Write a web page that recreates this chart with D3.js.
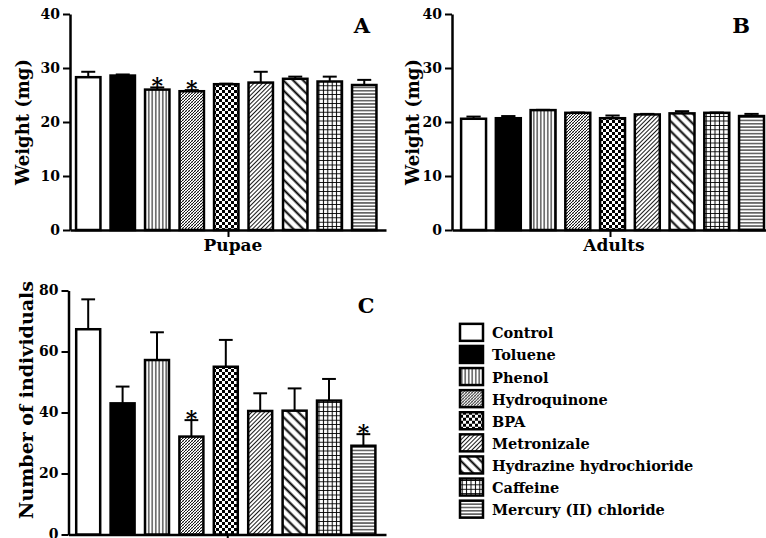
<!DOCTYPE html>
<html>
<head>
<meta charset="utf-8">
<script src="https://cdn.jsdelivr.net/npm/d3@7"></script>
<style>
  body { margin: 0; background: #fff; }
  svg { display: block; }
  text { font-family: "DejaVu Serif", serif; font-weight: bold; fill: #000; }
</style>
</head>
<body>
<div id="chart"></div>
<script>
// values
const categories = ["Control", "Toluene", "Phenol", "Hydroquinone", "BPA", "Metronizale",
  "Hydrazine hydrochioride", "Caffeine", "Mercury (II) chloride"];
const pupaeMean = [28.3, 28.6, 26.0, 25.7, 27.0, 27.3, 28.0, 27.5, 26.85];
const pupaeErr = [1.0, 0.2, 0.4, 0.2, 0.1, 2.0, 0.4, 0.9, 0.95];
const adultsMean = [20.6, 20.7, 22.2, 21.7, 20.7, 21.4, 21.6, 21.7, 21.1];
const adultsErr = [0.4, 0.4, 0.05, 0.05, 0.5, 0.1, 0.4, 0.05, 0.4];
const countMean = [67.3, 43.0, 57.2, 32.1, 55.0, 40.5, 40.6, 43.9, 29.1];
const countErr = [9.8, 5.5, 9.1, 5.4, 8.8, 5.8, 7.3, 7.1, 3.8];
const pupaeStars = ["Phenol", "Hydroquinone"];
const adultsStars = [];
const countStars = ["Hydroquinone", "Mercury (II) chloride"];
const weightTicks = [0, 10, 20, 30, 40];
const countTicks = [0, 20, 40, 60, 80];

const W = 766, H = 538;
const svg = d3.select('#chart').append('svg')
  .attr('width', W)
  .attr('height', H);

// fill patterns, one per treatment
const defs = svg.append('defs');
const pat = (id, w, h, attrs) => {
  const p = defs.append('pattern')
    .attr('id', id)
    .attr('patternUnits', 'userSpaceOnUse')
    .attr('width', w)
    .attr('height', h);
  if (attrs) p.attr('patternTransform', attrs);
  p.append('rect').attr('width', w).attr('height', h).attr('fill', '#fff');
  return p;
};
pat('p2', 3.5, 10).append('line')
  .attr('x1', 1.75).attr('x2', 1.75).attr('y1', 0).attr('y2', 10)
  .attr('stroke', '#000').attr('stroke-width', 1);
const hq = pat('p3', 3, 3);
hq.append('path').attr('d', 'M-1,1 L1,-1 M0,3 L3,0 M2,4 L4,2')
  .attr('stroke', '#000').attr('stroke-width', 0.9);
hq.append('path').attr('d', 'M0,0 L3,3')
  .attr('stroke', '#000').attr('stroke-width', 0.3);
const bpa = pat('p4', 6, 6);
bpa.append('rect').attr('x', 0).attr('y', 0).attr('width', 3).attr('height', 3).attr('fill', '#000');
bpa.append('rect').attr('x', 3).attr('y', 3).attr('width', 3).attr('height', 3).attr('fill', '#000');
pat('p5', 3, 10, 'rotate(45)').append('line')
  .attr('x1', 1.5).attr('x2', 1.5).attr('y1', 0).attr('y2', 10)
  .attr('stroke', '#000').attr('stroke-width', 0.9);
pat('p6', 7, 10, 'rotate(-45)').append('line')
  .attr('x1', 3.5).attr('x2', 3.5).attr('y1', 0).attr('y2', 10)
  .attr('stroke', '#000').attr('stroke-width', 2);
pat('p7', 4.4, 4.4).append('path')
  .attr('d', 'M2.2,0 V4.4 M0,2.2 H4.4')
  .attr('stroke', '#000').attr('stroke-width', 1);
pat('p8', 10, 3.3).append('line')
  .attr('x1', 0).attr('x2', 10).attr('y1', 1.65).attr('y2', 1.65)
  .attr('stroke', '#000').attr('stroke-width', 1);

const fillFor = (i) => {
  if (i == 0) return '#fff';
  if (i == 1) return '#000';
  return 'url(#p' + i + ')';
};

const drawPanel = (p) => {
  const g = svg.append('g');
  const x = d3.scaleBand()
    .domain(categories)
    .range(p.xRange)
    .paddingInner(p.padding)
    .paddingOuter(p.padding / 2);
  const y = d3.scaleLinear()
    .domain([0, d3.max(p.ticks)])
    .range(p.yRange);

  // x axis with a single centred tick
  const xAxis = d3.scalePoint()
    .domain([p.xLabel])
    .range([p.axisX, p.axisEnd])
    .padding(0.5);
  const gx = g.append('g')
    .attr('transform', 'translate(0,' + p.yRange[0] + ')')
    .call(d3.axisBottom(xAxis).tickSize(7).tickSizeOuter(0).tickFormat(''));
  gx.select('.domain').attr('stroke-width', 2.5);
  gx.selectAll('.tick line').attr('stroke-width', 2);

  const bars = g.selectAll('.bar')
    .data(p.mean)
    .enter()
    .append('g');
  bars.append('line')
    .attr('x1', (d, i) => x(categories[i]) + x.bandwidth() / 2)
    .attr('x2', (d, i) => x(categories[i]) + x.bandwidth() / 2)
    .attr('y1', d => y(d))
    .attr('y2', (d, i) => y(d + p.err[i]))
    .attr('stroke', '#000')
    .attr('stroke-width', 2);
  bars.append('line')
    .attr('x1', (d, i) => x(categories[i]) + x.bandwidth() * 0.24)
    .attr('x2', (d, i) => x(categories[i]) + x.bandwidth() * 0.76)
    .attr('y1', (d, i) => y(d + p.err[i]))
    .attr('y2', (d, i) => y(d + p.err[i]))
    .attr('stroke', '#000')
    .attr('stroke-width', 2);
  bars.append('rect')
    .attr('x', (d, i) => x(categories[i]) + 1.25)
    .attr('width', x.bandwidth() - 2.5)
    .attr('y', d => y(d))
    .attr('height', d => y(0) - y(d))
    .attr('fill', (d, i) => fillFor(i))
    .attr('stroke', '#000')
    .attr('stroke-width', 2.5);

  // significance marks
  g.selectAll('.star')
    .data(p.stars)
    .enter()
    .append('text')
      .attr('x', d => x(d) + x.bandwidth() / 2)
      .attr('y', d => {
        const i = categories.indexOf(d);
        return y(p.mean[i] + p.err[i]) + 6;
      })
      .attr('text-anchor', 'middle')
      .style('font-size', '22px')
      .text('*');

  const gy = g.append('g')
    .attr('transform', 'translate(' + p.axisX + ',0)')
    .call(d3.axisLeft(y).tickValues(p.ticks).tickSize(7).tickSizeOuter(0).tickPadding(3));
  gy.select('.domain').attr('stroke-width', 2.5);
  gy.selectAll('.tick line').attr('stroke-width', 2);
  gy.selectAll('.tick text')
    .style('font-family', '"DejaVu Serif", serif')
    .style('font-weight', 'bold')
    .style('font-size', '14px');

  g.append('text')
    .attr('transform', 'translate(' + p.yTitleX + ',' + p.yTitleY + ') rotate(-90)')
    .attr('text-anchor', 'middle')
    .style('font-size', p.yTitleSize + 'px')
    .text(p.yTitle);
  if (p.showXLabel) {
    g.append('text')
      .attr('x', p.xTitleX)
      .attr('y', p.yRange[0] + 21)
      .attr('text-anchor', 'middle')
      .style('font-size', '17px')
      .text(p.xLabel);
  }
  g.append('text')
    .attr('x', p.letterX)
    .attr('y', p.letterY)
    .attr('text-anchor', 'middle')
    .style('font-size', '21px')
    .text(p.letter);
};

drawPanel({
  mean: pupaeMean, err: pupaeErr, stars: pupaeStars, ticks: weightTicks,
  xRange: [71, 381.5], padding: 0.22, yRange: [230, 14],
  axisX: 70, axisEnd: 386, xLabel: 'Pupae', showXLabel: true, xTitleX: 233,
  yTitle: 'Weight (mg)', yTitleX: 29, yTitleY: 122, yTitleSize: 18,
  letter: 'A', letterX: 362, letterY: 33
});
drawPanel({
  mean: adultsMean, err: adultsErr, stars: adultsStars, ticks: weightTicks,
  xRange: [456.2, 768.9], padding: 0.21, yRange: [230, 14],
  axisX: 452, axisEnd: 768, xLabel: 'Adults', showXLabel: true, xTitleX: 614,
  yTitle: 'Weight (mg)', yTitleX: 419, yTitleY: 122, yTitleSize: 18,
  letter: 'B', letterX: 741, letterY: 33
});
drawPanel({
  mean: countMean, err: countErr, stars: countStars, ticks: countTicks,
  xRange: [71, 380.6], padding: 0.23, yRange: [534.5, 290.5],
  axisX: 68.5, axisEnd: 386, xLabel: '', showXLabel: false, xTitleX: 0,
  yTitle: 'Number of  individuals', yTitleX: 33, yTitleY: 400, yTitleSize: 19,
  letter: 'C', letterX: 366, letterY: 313
});

// legend
const legendY = d3.scaleBand()
  .domain(categories)
  .range([321.3, 520.2]);
const legend = svg.selectAll('.legend')
  .data(categories)
  .enter()
  .append('g')
    .attr('transform', d => 'translate(460,' + (legendY(d) + legendY.bandwidth() / 2) + ')');
legend.append('rect')
  .attr('x', 0)
  .attr('y', -8.5)
  .attr('width', 23)
  .attr('height', 17)
  .attr('fill', (d, i) => fillFor(i))
  .attr('stroke', '#000')
  .attr('stroke-width', 2.5);
legend.append('text')
  .attr('x', 32)
  .attr('y', 6)
  .style('font-size', '14.5px')
  .text(d => d);
</script>
</body>
</html>
